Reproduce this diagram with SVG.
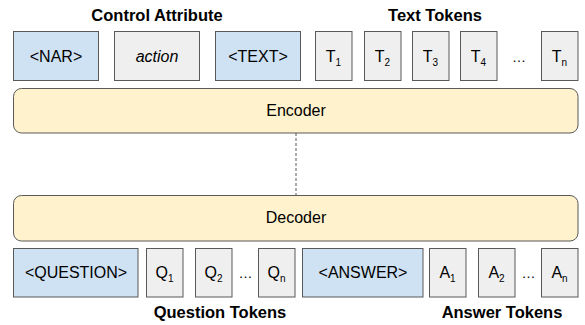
<svg xmlns="http://www.w3.org/2000/svg" width="585" height="325" viewBox="0 0 585 325">
<style>
text{font-family:"Liberation Sans",Arial,sans-serif;fill:#000}
.t{font-size:16px;text-anchor:middle}
.s{font-size:10px}
.h{font-size:16.5px;font-weight:bold;text-anchor:middle}
.blue{fill:#cfe2f3;stroke:#595959;stroke-width:1}
.gray{fill:#efefef;stroke:#595959;stroke-width:1}
.yel{fill:#fff2cc;stroke:#595959;stroke-width:1}
.dots{font-size:14px;text-anchor:middle}
</style>
<rect width="585" height="325" fill="#fff"/>
<g id="labels">
<text class="h" x="157" y="21">Control Attribute</text>
<text class="h" x="435" y="21">Text Tokens</text>
<text class="h" x="220" y="318">Question Tokens</text>
<text class="h" x="502" y="318">Answer Tokens</text>
</g>
<g id="connectors">
<line x1="296" y1="133" x2="296" y2="195" stroke="#595959" stroke-width="1" stroke-dasharray="3,2"/>
</g>
<g id="nar"><rect class="blue" x="13.5" y="31.5" width="85" height="49"/><text class="t" x="56" y="62">&lt;NAR&gt;</text></g>
<g id="action"><rect class="gray" x="114.5" y="31.5" width="85" height="49"/><text class="t" x="157" y="62" font-style="italic">action</text></g>
<g id="text"><rect class="blue" x="215.5" y="31.5" width="85" height="49"/><text class="t" x="258" y="62">&lt;TEXT&gt;</text></g>
<g id="t1"><rect class="gray" x="315.5" y="31.5" width="36.5" height="49"/><text class="t" x="333.5" y="62">T<tspan class="s" dy="4">1</tspan></text></g>
<g id="t2"><rect class="gray" x="364.5" y="31.5" width="36.5" height="49"/><text class="t" x="382.5" y="62">T<tspan class="s" dy="4">2</tspan></text></g>
<g id="t3"><rect class="gray" x="412.5" y="31.5" width="36.5" height="49"/><text class="t" x="430.5" y="62">T<tspan class="s" dy="4">3</tspan></text></g>
<g id="t4"><rect class="gray" x="460.5" y="31.5" width="36.5" height="49"/><text class="t" x="478.5" y="62">T<tspan class="s" dy="4">4</tspan></text></g>
<text class="dots" x="519" y="62">…</text>
<g id="tn"><rect class="gray" x="541.5" y="31.5" width="36.5" height="49"/><text class="t" x="559.5" y="62">T<tspan class="s" dy="4">n</tspan></text></g>
<g id="encoder"><rect class="yel" x="13.5" y="88.5" width="564.5" height="44.5" rx="8"/><text class="t" x="296" y="116">Encoder</text></g>
<g id="decoder"><rect class="yel" x="13.5" y="195.5" width="564.5" height="45.5" rx="8"/><text class="t" x="296" y="223">Decoder</text></g>
<g id="question"><rect class="blue" x="13.5" y="248.5" width="124.5" height="48.5"/><text class="t" x="76" y="278">&lt;QUESTION&gt;</text></g>
<g id="q1"><rect class="gray" x="146.5" y="248.5" width="36.5" height="48.5"/><text class="t" x="164.5" y="278">Q<tspan class="s" dy="4">1</tspan></text></g>
<g id="q2"><rect class="gray" x="195.5" y="248.5" width="36.5" height="48.5"/><text class="t" x="213.5" y="278">Q<tspan class="s" dy="4">2</tspan></text></g>
<text class="dots" x="245.5" y="278">…</text>
<g id="qn"><rect class="gray" x="258.5" y="248.5" width="36.5" height="48.5"/><text class="t" x="276.5" y="278">Q<tspan class="s" dy="4">n</tspan></text></g>
<g id="answer"><rect class="blue" x="302.5" y="248.5" width="120.5" height="48.5"/><text class="t" x="363" y="278">&lt;ANSWER&gt;</text></g>
<g id="a1"><rect class="gray" x="429.5" y="248.5" width="36.5" height="48.5"/><text class="t" x="447.5" y="278">A<tspan class="s" dy="4">1</tspan></text></g>
<g id="a2"><rect class="gray" x="478.5" y="248.5" width="36.5" height="48.5"/><text class="t" x="496.5" y="278">A<tspan class="s" dy="4">2</tspan></text></g>
<text class="dots" x="528.5" y="278">…</text>
<g id="an"><rect class="gray" x="541.5" y="248.5" width="36.5" height="48.5"/><text class="t" x="559.5" y="278">A<tspan class="s" dy="4">n</tspan></text></g>
</svg>
